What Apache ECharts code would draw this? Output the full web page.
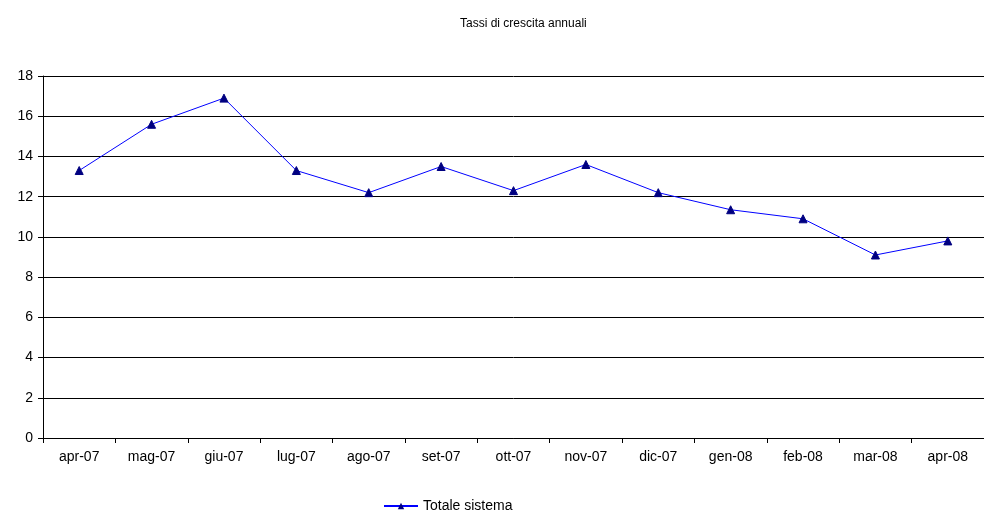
<!DOCTYPE html>
<html><head><meta charset="utf-8">
<script src="https://cdn.jsdelivr.net/npm/echarts@6/dist/echarts.min.js"></script>
<style>html,body{margin:0;padding:0;background:#fff}#c{width:984px;height:520px}</style>
</head><body><div id="c"></div>
<script>
var categories = ['apr-07','mag-07','giu-07','lug-07','ago-07','set-07','ott-07','nov-07','dic-07','gen-08','feb-08','mar-08','apr-08'];
var values = [13.3, 15.6, 16.9, 13.3, 12.2, 13.5, 12.3, 13.6, 12.2, 11.35, 10.9, 9.1, 9.8];

var chart = echarts.init(document.getElementById('c'));
chart.setOption({
    animation: false,
    textStyle: { fontFamily: 'Liberation Sans, Arial' },
    title: {
        text: 'Tassi di crescita annuali',
        left: 455, top: 13,
        textStyle: { fontSize: 12, fontWeight: 'normal', color: '#000' }
    },
    legend: {
        bottom: 2, left: 378,
        itemWidth: 34, itemHeight: 8,
        textStyle: { fontSize: 14, color: '#000' },
        data: ['Totale sistema']
    },
    grid: { left: 43, right: -14, top: 76, bottom: 82 },
    xAxis: {
        type: 'category', data: categories, boundaryGap: true,
        axisLine: { lineStyle: { color: '#000' } },
        axisTick: { show: true, length: 5, lineStyle: { color: '#000' } },
        axisLabel: { fontSize: 14, color: '#000', margin: 12 }
    },
    yAxis: {
        type: 'value', min: 0, max: 18, interval: 2,
        axisLine: { show: true, lineStyle: { color: '#000' } },
        axisTick: { show: true, length: 5, lineStyle: { color: '#000' } },
        axisLabel: { fontSize: 14, color: '#000', margin: 10 },
        splitLine: { lineStyle: { color: '#000', width: 1 } }
    },
    series: [{
        name: 'Totale sistema', type: 'line', data: values,
        symbol: 'triangle', symbolSize: 8,
        lineStyle: { color: '#0000ff', width: 1 },
        itemStyle: { color: '#000080', borderColor: '#000080' }
    }]
});
</script>
</body></html>
